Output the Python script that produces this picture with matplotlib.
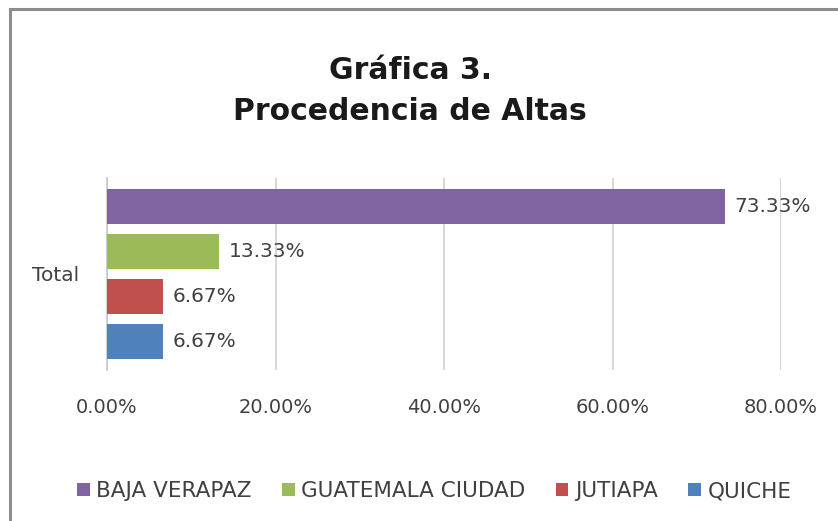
import matplotlib
matplotlib.use("Agg")
import matplotlib.pyplot as plt
from matplotlib.patches import Rectangle, Patch

categories = ["Total"]
series_names = ["BAJA VERAPAZ", "GUATEMALA CIUDAD", "JUTIAPA", "QUICHE"]
series_values = [73.33, 13.33, 6.67, 6.67]
series_colors = ["#8064A2", "#9BBB59", "#C0504D", "#4F81BD"]
x_ticks = [0, 20, 40, 60, 80]
x_tick_labels = ["0.00%", "20.00%", "40.00%", "60.00%", "80.00%"]
title = "Gráfica 3.\nProcedencia de Altas"

plt.rcParams['font.family'] = ['DejaVu Sans']

W, H = 838, 521
fig = plt.figure(figsize=(W / 100, H / 100), dpi=100)
fig.patch.set_facecolor("white")

# outer frame (top and left visible)
fig.add_artist(Rectangle((10 / W, -0.1), 1.2, (H - 8) / H + 0.1 - 1 / H,
                         transform=fig.transFigure, fill=False,
                         edgecolor="#8C8C8C", linewidth=2.2))

ax = fig.add_axes([107 / W, 1 - 370 / H, (781 - 107) / W, (370 - 178) / H])

n = len(series_values)
step = 0.234
bh = 0.182
for i, (name, val, col) in enumerate(zip(series_names, series_values, series_colors)):
    y = (i - (n - 1) / 2) * step
    ax.barh(y, val, height=bh, color=col, zorder=3, label=name)
    ax.annotate(f"{val:.2f}%", xy=(val, y), xytext=(7, 0), textcoords="offset points",
                va="center", ha="left", fontsize=14.5, color="#404040")

ax.set_ylim(0.5, -0.5)
ax.set_yticks([0])
ax.set_yticklabels(categories, fontsize=14.5, color="#404040")
ax.set_xlim(0, 80)
ax.set_xticks(x_ticks)
ax.set_xticklabels(x_tick_labels, fontsize=14, color="#404040")
ax.tick_params(axis="x", length=0, pad=20)
ax.tick_params(axis="y", length=0, pad=20)
ax.grid(axis="x", color="#D0D0D0", linewidth=1.2, zorder=0)
for s in ["top", "right", "bottom"]:
    ax.spines[s].set_visible(False)
ax.spines["left"].set_color("#C8C8C8")
ax.spines["left"].set_linewidth(1.2)

fig.text(410 / W, 1 - 91 / H, title, ha="center", va="center", fontsize=21.5,
         fontweight="bold", color="#1a1a1a", linespacing=1.5)

handles = [Patch(facecolor=c, edgecolor="none") for c in series_colors]
leg = fig.legend(handles, series_names, loc="center", bbox_to_anchor=(434 / W, 1 - 491 / H),
                 ncol=4, frameon=False, fontsize=15.5, handlelength=0.6, handleheight=0.6,
                 handletextpad=0.3, columnspacing=1.4, labelcolor="#404040")

fig.savefig("out.png", dpi=100, facecolor="white")
